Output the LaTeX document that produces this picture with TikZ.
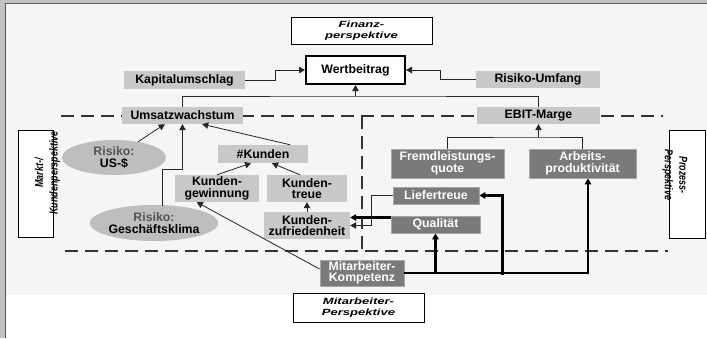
\documentclass[tikz,border=0pt]{standalone}
\usepackage{fontspec}
\setmainfont{Liberation Sans}
\usetikzlibrary{shapes.geometric,calc,arrows.meta}
\definecolor{framegray}{HTML}{C2C2C2}
\definecolor{frameline}{HTML}{5A5A5A}
\definecolor{panel}{HTML}{F5F5F5}
\definecolor{lightbox}{HTML}{C8C8C8}
\definecolor{ellgray}{HTML}{BEBEBE}
\definecolor{darkbox}{HTML}{7A7A7A}
\definecolor{darkborder}{HTML}{A6A6A6}
\definecolor{dashcol}{HTML}{333333}
\definecolor{risktxt}{HTML}{555555}
\newcommand{\widetxt}[1]{\scalebox{1.45}[1]{#1}}
\newcommand{\narrowtxt}[1]{\scalebox{0.78}[1]{#1}}
\begin{document}
\begin{tikzpicture}[x=1pt,y=-1pt,
  every node/.style={inner sep=0pt,align=center},
  txt/.style={font=\bfseries\fontsize{12.3}{11.5}\selectfont},
  lbox/.style={txt,fill=lightbox},
  dbox/.style={txt,fill=darkbox,draw=darkborder,line width=0.8pt,text=white},
  ell/.style={txt,ellipse,fill=ellgray},
  persp/.style={draw=black,fill=white,line width=1pt,font=\bfseries\itshape\fontsize{9}{11.5}\selectfont},
  rlabel/.style={font=\bfseries\itshape\fontsize{11.5}{14.5}\selectfont},
  conn/.style={line width=0.8pt,draw=black!85},
  thickc/.style={line width=2.4pt,draw=black},
  tip/.style={-{Triangle[length=6pt,width=6.5pt]}},
  dashline/.style={line width=2.8pt,draw=dashcol,dash pattern=on 13pt off 7pt}]
\useasboundingbox (0,0) rectangle (707,338);
% frame and panel
\fill[framegray] (0,0) rectangle (707,338);
\fill[white] (6,4) rectangle (707,338);
\fill[panel] (6,4) rectangle (707,295);
\draw[frameline,line width=1.6pt] (5.5,338) -- (5.5,3.5) -- (707,3.5);
% dashed perspective borders
\draw[dashline] (61,116) -- (663,116);
\draw[dashline] (362,116) -- (362,251);
\draw[dashline] (65,251) -- (668,251);
% perspective labels
\node[persp,minimum width=141pt,minimum height=27pt] (fin) at (361.5,30.5) {\widetxt{Finanz-}\\\widetxt{perspektive}};
\node[persp,minimum width=131pt,minimum height=29pt] (mitP) at (358.5,307.5) {\widetxt{Mitarbeiter-}\\\widetxt{Perspektive}};
\node[persp,minimum width=35pt,minimum height=107pt] (marktbox) at (35.5,183.5) {};
\node[rlabel,rotate=90] (markt) at (47.5,173) {\narrowtxt{Markt-/}\\\narrowtxt{Kundenperspektive}};
\node[persp,minimum width=36pt,minimum height=108pt] (prozbox) at (687,184) {};
\node[rlabel,rotate=-90] (proz) at (675,175) {\narrowtxt{Prozess-}\\\narrowtxt{Perspektive}};
% nodes
\node[txt,draw=black,line width=2pt,fill=white,minimum width=99pt,minimum height=28pt] (wert) at (355.5,70) {Wertbeitrag};
\node[lbox,minimum width=121pt,minimum height=18pt] (kap) at (184.5,80) {Kapitalumschlag};
\node[lbox,minimum width=124pt,minimum height=17pt] (risU) at (538,79.5) {Risiko-Umfang};
\node[lbox,minimum width=121pt,minimum height=17pt] (ums) at (182.5,115.5) {Umsatzwachstum};
\node[lbox,minimum width=123pt,minimum height=17pt] (ebit) at (538.5,115.5) {EBIT-Marge};
\node[ell,minimum width=104pt,minimum height=35pt] (usd) at (114,157.5) {\textcolor{risktxt}{Risiko:}\\US-\$};
\node[ell,minimum width=104pt,minimum height=36pt] (gesch) at (154,223) {\textcolor{risktxt}{Risiko:}\\Geschäftsklima};
\node[lbox,minimum width=90pt,minimum height=18pt] (kunden) at (263,154) {\#Kunden};
\node[lbox,minimum width=84pt,minimum height=27pt] (kgew) at (217,188.5) {Kunden-\\gewinnung};
\node[lbox,minimum width=80pt,minimum height=27pt] (ktreue) at (307,188.5) {Kunden-\\treue};
\node[lbox,minimum width=86pt,minimum height=27pt] (kzuf) at (307,225.5) {Kunden-\\zufriedenheit};
\node[dbox,minimum width=113pt,minimum height=29pt] (fremd) at (447.5,163.5) {Fremdleistungs-\\quote};
\node[dbox,minimum width=107pt,minimum height=29pt] (arbeit) at (582.5,163.5) {Arbeits-\\produktivität};
\node[dbox,minimum width=86pt,minimum height=17pt] (liefer) at (436,195.5) {Liefertreue};
\node[dbox,minimum width=89pt,minimum height=17pt] (qual) at (435.5,224.5) {Qualität};
\node[dbox,minimum width=84pt,minimum height=26pt] (mitK) at (362,273) {Mitarbeiter-\\Kompetenz};
% connectors: financial
\draw[conn,tip] (kap.east) -- ++(30,0) |- (wert.west);
\draw[conn,tip] (risU.west) -- ++(-35,0) |- (wert.east);
\coordinate (join) at (355.5,96);
\draw[conn] (ums.north) |- (join) -| (ebit.north);
\draw[conn,tip] (join) -- (wert.south);
% market
\draw[conn,tip] (usd) -- ($(ums.south west)+(43,0)$);
\draw[conn,tip] ($(gesch.north)+(8,1)$) -- ++(0,-36) -| (ums.south);
\draw[conn,tip] ($(kunden.north east)+(-18,0)$) -- ($(ums.south east)+(-41,0)$);
\draw[conn,tip] (kgew.north) -- ($(kunden.south)+(-12,0)$);
\draw[conn,tip] ($(ktreue.north)+(-7,0)$) -- ($(kunden.south)+(9,0)$);
\draw[conn,tip] (kzuf.north) -- (ktreue.south);
\draw[conn,tip] ($(mitK.west)+(0,-4)$) -- ($(kgew.south west)+(22,0)$);
% process
\coordinate (ebitjoin) at (538.5,137);
\draw[conn] (fremd.north) |- (ebitjoin) -| (arbeit.north);
\draw[conn,tip] (ebitjoin) -- (ebit.south);
\draw[conn,tip] (liefer.west) -- ++(-21,0) |- (kzuf.east);
\draw[thickc,tip] ($(qual.west)+(0,-7)$) -- ($(kzuf.east)+(0,-8)$);
% employee
\draw[thickc,tip] (mitK.east) -| ($(arbeit.south)+(5.5,0)$);
\draw[thickc,tip] (qual.south |- mitK.east) -- (qual.south);
\draw[thickc,tip] ($(mitK.east)+(98,2)$) |- (liefer.east);
\end{tikzpicture}
\end{document}
